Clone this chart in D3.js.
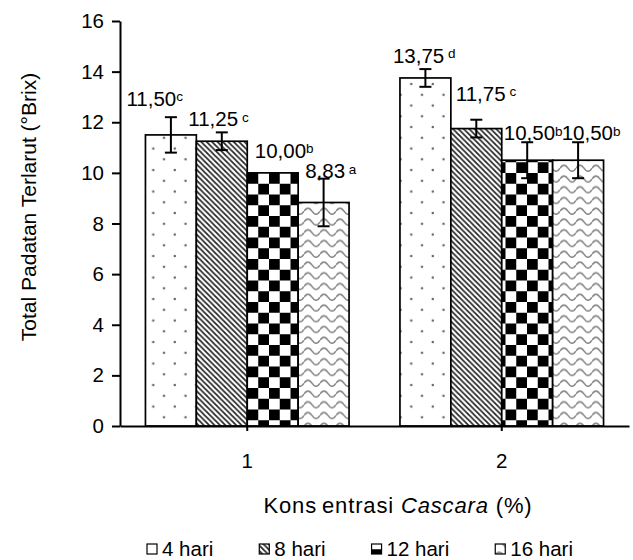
<!DOCTYPE html>
<html>
<head>
<meta charset="utf-8">
<script src="https://cdn.jsdelivr.net/npm/d3@7"></script>
<style>
  body { margin: 0; background: #fff; }
  svg text { font-family: "Liberation Sans", Arial, sans-serif; fill: #000; white-space: pre; }
</style>
</head>
<body>
<div id="chart"></div>
<script>
// chart data
const groups = ['1', '2'];
const series = ['4 hari', '8 hari', '12 hari', '16 hari'];
const values = [
  [11.50, 11.25, 10.00, 8.83],
  [13.75, 11.75, 10.50, 10.50]
];
const errors = [
  [0.70, 0.35, 0.00, 0.94],
  [0.35, 0.35, 0.71, 0.71]
];
const letters = [
  ['c', ' c', 'b', ' a'],
  [' d', ' c', 'b', 'b']
];
const yTicks = [0, 2, 4, 6, 8, 10, 12, 14, 16];

// labels were moved by hand in the original, offsets from bar left / bar top
const labelNudge = [
  [[-19, -29], [-8, -15], [7.5, -15], [7, -24]],
  [[-7, -15], [5, -28], [2, -20], [9, -20]]
];

const W = 633, H = 560;
const margin = { top: 21, right: 4, bottom: 134, left: 120 };
const FS = 20.5;

const svg = d3.select('#chart')
  .append('svg')
  .attr('width', W)
  .attr('height', H);

// fill patterns
const defs = svg.append('defs');

const pDots = defs.append('pattern').attr('id', 'pat0')
  .attr('patternUnits', 'userSpaceOnUse').attr('width', 21.5).attr('height', 21.5);
pDots.append('rect').attr('width', 21.5).attr('height', 21.5).attr('fill', '#fff');
pDots.append('circle').attr('cx', 2.8).attr('cy', 19.5).attr('r', 1.25).attr('fill', '#666');
pDots.append('circle').attr('cx', 13.55).attr('cy', 8.75).attr('r', 1.25).attr('fill', '#666');

const pDiag = defs.append('pattern').attr('id', 'pat1')
  .attr('patternUnits', 'userSpaceOnUse').attr('width', 5.4).attr('height', 5.4);
pDiag.append('rect').attr('width', 5.4).attr('height', 5.4).attr('fill', '#fff');
pDiag.append('path')
  .attr('d', 'M-1,-1L6.4,6.4M-1,4.4L1,6.4M4.4,-1L6.4,1')
  .attr('stroke', '#222').attr('stroke-width', 1.7);

const pCheck = defs.append('pattern').attr('id', 'pat2')
  .attr('patternUnits', 'userSpaceOnUse').attr('width', 21.5).attr('height', 21.5)
  .attr('patternTransform', 'translate(11,1)');
pCheck.append('rect').attr('width', 21.5).attr('height', 21.5).attr('fill', '#fff');
pCheck.append('rect').attr('width', 10.75).attr('height', 10.75).attr('fill', '#000');
pCheck.append('rect').attr('x', 10.75).attr('y', 10.75).attr('width', 10.75).attr('height', 10.75).attr('fill', '#000');

const pWave = defs.append('pattern').attr('id', 'pat3')
  .attr('patternUnits', 'userSpaceOnUse').attr('width', 16).attr('height', 10.75);
pWave.append('rect').attr('width', 16).attr('height', 10.75).attr('fill', '#fff');
pWave.append('path')
  .attr('d', 'M0,7Q4,1 8,7T16,7')
  .attr('fill', 'none').attr('stroke', '#888').attr('stroke-width', 1.6);

const patFill = d3.scaleOrdinal().domain(series).range(['url(#pat0)', 'url(#pat1)', 'url(#pat2)', 'url(#pat3)']);

// scales
const x0 = d3.scaleBand()
  .domain(groups)
  .range([margin.left, W - margin.right]);

const x1 = d3.scaleBand()
  .domain(series)
  .range([0, x0.bandwidth()])
  .paddingOuter(0.5);

const y = d3.scaleLinear()
  .domain([0, 16])
  .range([H - margin.bottom, margin.top]);

// bars
const barData = [];
groups.forEach((g, gi) => {
  series.forEach((s, si) => {
    barData.push({ g, s, gi, si, v: values[gi][si], e: errors[gi][si], l: letters[gi][si] });
  });
});

svg.append('g')
  .selectAll('rect')
  .data(barData)
  .enter()
  .append('rect')
  .attr('x', d => x0(d.g) + x1(d.s))
  .attr('y', d => y(d.v))
  .attr('width', x1.bandwidth())
  .attr('height', d => y(0) - y(d.v))
  .attr('fill', d => patFill(d.s))
  .attr('stroke', '#000')
  .attr('stroke-width', 1.7);

// error bars
const eb = svg.append('g')
  .selectAll('g')
  .data(barData.filter(d => d.e > 0))
  .enter()
  .append('g')
  .attr('stroke', '#000')
  .attr('stroke-width', 2);

const cx = d => x0(d.g) + x1(d.s) + x1.bandwidth() / 2;

eb.append('line')
  .attr('x1', cx)
  .attr('x2', cx)
  .attr('y1', d => y(d.v + d.e))
  .attr('y2', d => y(d.v - d.e));

[1, -1].forEach(sign => {
  eb.append('line')
    .attr('x1', d => cx(d) - 6)
    .attr('x2', d => cx(d) + 6)
    .attr('y1', d => y(d.v + sign * d.e))
    .attr('y2', d => y(d.v + sign * d.e));
});

// value labels with superscript letters
const fmt = v => v.toFixed(2).replace('.', ',');
const lab = svg.append('g')
  .selectAll('text')
  .data(barData)
  .enter()
  .append('text')
  .attr('x', d => x0(d.g) + x1(d.s) + labelNudge[d.gi][d.si][0])
  .attr('y', d => y(d.v) + labelNudge[d.gi][d.si][1])
  .attr('font-size', FS);

lab.append('tspan').text(d => fmt(d.v));
lab.append('tspan')
  .attr('font-size', 13.5)
  .attr('dy', -4.5)
  .text(d => d.l);

// y axis
const yAxis = svg.append('g')
  .attr('transform', `translate(${margin.left},0)`)
  .call(d3.axisLeft(y).tickValues(yTicks).tickSize(8).tickSizeOuter(0).tickPadding(8));

// x axis
const xAxis = svg.append('g')
  .attr('transform', `translate(0,${y(0)})`)
  .call(d3.axisBottom(x0).tickSize(5).tickSizeOuter(0).tickPadding(22));

[yAxis, xAxis].forEach(a => {
  a.select('.domain').attr('stroke', '#000').attr('stroke-width', 2);
  a.selectAll('.tick line').attr('stroke', '#000').attr('stroke-width', 2);
  a.selectAll('.tick text')
    .attr('font-family', '"Liberation Sans", Arial, sans-serif')
    .attr('font-size', FS)
    .attr('fill', '#000');
});

// axis titles
svg.append('text')
  .attr('transform', 'translate(36,207) rotate(-90)')
  .attr('text-anchor', 'middle')
  .attr('font-size', 21)
  .text('Total Padatan Terlarut (°Brix)');

const xt = svg.append('text')
  .attr('x', 398)
  .attr('y', 513)
  .attr('text-anchor', 'middle')
  .attr('font-size', 22);
xt.append('tspan').text('Kons');
xt.append('tspan').attr('dx', 5).text('entrasi ');
xt.append('tspan').attr('font-style', 'italic').text('Cascara');
xt.append('tspan').text(' (%)');
// the original title is set a little loose
const xtLen = xt.node().getComputedTextLength();
xt.attr('letter-spacing', Math.max(0, (264 - xtLen) / 23));

// legend
const legend = svg.append('g').attr('transform', 'translate(147,0)');
let lx = 0;
series.forEach(s => {
  const item = legend.append('g').attr('transform', `translate(${lx},0)`);
  item.append('rect')
    .attr('x', 0).attr('y', 544)
    .attr('width', 10).attr('height', 10)
    .attr('fill', patFill(s))
    .attr('stroke', '#000')
    .attr('stroke-width', 1.2);
  const t = item.append('text')
    .attr('x', 15).attr('y', 555.5)
    .attr('font-size', FS)
    .text(s);
  lx += 15 + t.node().getComputedTextLength() + 46;
});
</script>
</body>
</html>
